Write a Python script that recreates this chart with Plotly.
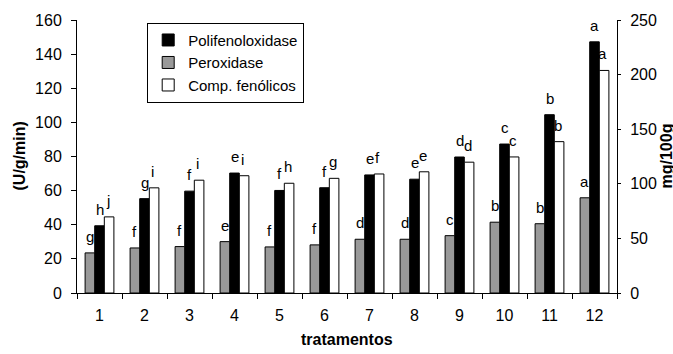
import plotly.graph_objects as go

categories = ["1", "2", "3", "4", "5", "6", "7", "8", "9", "10", "11", "12"]
polifenoloxidase = [39.4, 55.3, 59.7, 70.3, 60.1, 61.7, 69.2, 66.7, 79.7, 87.3, 104.5, 147.2]
peroxidase = [23.5, 26.4, 27.2, 30.1, 27.0, 28.2, 31.5, 31.5, 33.6, 41.5, 40.6, 55.8]
comp_fenolicos = [69.7, 96.3, 103.3, 107.4, 100.5, 105.0, 109.0, 111.0, 119.8, 124.6, 138.6, 203.8]

letras_pol = ["h", "g", "f", "e", "f", "f", "e", "e", "d", "c", "b", "a"]
letras_per = ["g", "f", "f", "e", "f", "f", "d", "d", "c", "b", "b", "a"]
letras_fen = ["j", "i", "i", "i", "h", "g", "f", "e", "d", "c", "b", "a"]

FONT = "Liberation Sans, Arial, sans-serif"
W = 0.213
off_per, off_pol, off_fen = -0.32, -0.1065, 0.107

fig = go.Figure()
fig.add_trace(go.Bar(x=categories, y=polifenoloxidase, name="Polifenoloxidase",
                     marker=dict(color="#000000", line=dict(color="#000000", width=1)),
                     width=W, offset=off_pol, yaxis="y"))
fig.add_trace(go.Bar(x=categories, y=peroxidase, name="Peroxidase",
                     marker=dict(color="#999999", line=dict(color="#000000", width=1)),
                     width=W, offset=off_per, yaxis="y"))
fig.add_trace(go.Bar(x=categories, y=comp_fenolicos, name="Comp. fenólicos",
                     marker=dict(color="#ffffff", line=dict(color="#000000", width=1)),
                     width=W, offset=off_fen, yaxis="y2"))

ann = []
for i in range(len(categories)):
    ann.append(dict(x=i + off_per + W / 2, y=peroxidase[i], xref="x", yref="y",
                    text=letras_per[i], showarrow=False, yanchor="bottom", yshift=6,
                    font=dict(family=FONT, size=15, color="#000")))
    ann.append(dict(x=i + off_pol + W / 2, y=polifenoloxidase[i], xref="x", yref="y",
                    text=letras_pol[i], showarrow=False, yanchor="bottom", yshift=6,
                    font=dict(family=FONT, size=15, color="#000")))
    ann.append(dict(x=i + off_fen + W / 2 - 0.03, y=comp_fenolicos[i], xref="x", yref="y2",
                    text=letras_fen[i], showarrow=False, yanchor="bottom", yshift=6,
                    font=dict(family=FONT, size=15, color="#000")))

ann.append(dict(x=0, y=0.5, xref="paper", yref="paper", xanchor="center", yanchor="middle",
                xshift=-58, text="<b>(U/g/min)</b>",
                textangle=-90, showarrow=False, font=dict(family=FONT, size=16, color="#000")))
ann.append(dict(x=1, y=0.5, xref="paper", yref="paper", xanchor="center", yanchor="middle",
                xshift=49, text="<b>mg/100g</b>",
                textangle=-90, showarrow=False, font=dict(family=FONT, size=16, color="#000")))
ann.append(dict(x=0.5, y=0, xref="paper", yref="paper", xanchor="center", yanchor="middle",
                yshift=-46, text="<b>tratamentos</b>",
                showarrow=False, font=dict(family=FONT, size=16, color="#000")))

fig.update_layout(
    width=673, height=354,
    margin=dict(l=77, r=56, t=17, b=61),
    paper_bgcolor="white", plot_bgcolor="white",
    barmode="overlay",
    font=dict(family=FONT, size=16, color="#000"),
    showlegend=True,
    legend=dict(x=0.13, y=0.99, xanchor="left", yanchor="top",
                bgcolor="white", bordercolor="#000", borderwidth=1,
                font=dict(family=FONT, size=15, color="#000"),
                itemwidth=30, tracegroupgap=0),
    xaxis=dict(type="category", range=[-0.5, 11.5], showline=True, linecolor="#000",
               linewidth=1, ticks="outside", ticklen=5, tickcolor="#000",
               tickson="boundaries", showgrid=False, zeroline=False,
               tickfont=dict(family=FONT, size=16), ticklabelstandoff=8),
    yaxis=dict(range=[0, 160], dtick=20, showline=True, linecolor="#000", linewidth=1,
               ticks="outside", ticklen=5, tickcolor="#000", showgrid=False,
               zeroline=False, tickfont=dict(family=FONT, size=16), ticklabelstandoff=6),
    yaxis2=dict(range=[0, 250], dtick=50, overlaying="y", side="right", showline=True,
                linecolor="#000", linewidth=1, ticks="outside", ticklen=3, tickcolor="#000",
                showgrid=False, zeroline=False, tickfont=dict(family=FONT, size=16),
                ticklabelstandoff=6),
    yaxis3=dict(range=[0, 250], dtick=50, overlaying="y", side="right", showline=False,
                ticks="inside", ticklen=4, tickcolor="#000", showticklabels=False,
                showgrid=False, zeroline=False),
    annotations=ann,
)

fig.write_html("out.html")
